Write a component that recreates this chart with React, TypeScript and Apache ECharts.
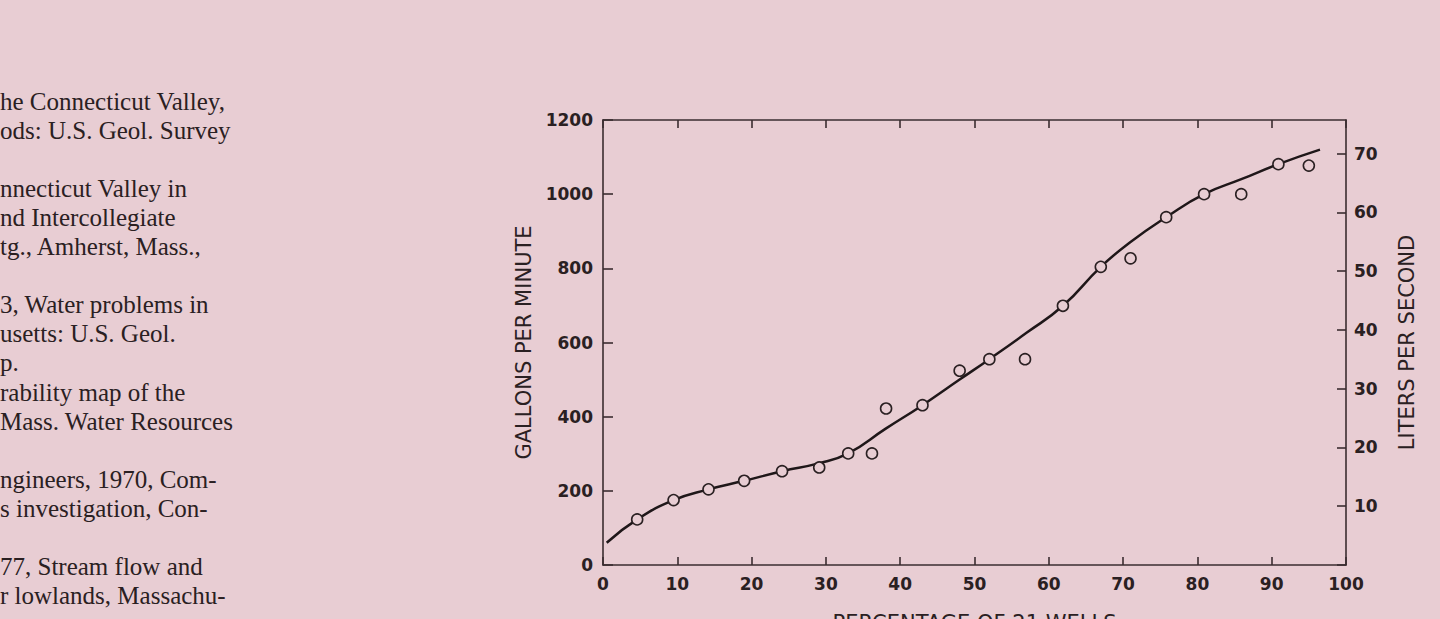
import React, { useEffect, useRef } from "react";
import * as echarts from "echarts";

// ---- data ----
const xTickValues = [0, 10, 20, 30, 40, 50, 60, 70, 80, 90, 100];
const gpmTicks = [0, 200, 400, 600, 800, 1000, 1200];
const lpsTicks = [10, 20, 30, 40, 50, 60, 70];

// observed wells (percentage of 21 wells, gallons per minute)
const wellPct = [4.6, 9.5, 14.2, 19.0, 24.1, 29.1, 33.0, 36.2, 38.1, 43.0, 48.0, 52.0, 56.8, 61.9, 67.0, 71.0, 75.8, 80.9, 85.9, 90.9, 95.0];
const wellGpm = [123, 175, 204, 227, 253, 263, 301, 301, 422, 431, 524, 555, 555, 699, 804, 827, 938, 1000, 1000, 1081, 1077];

// fitted curve
const curvePct = [0.5, 4.6, 9.5, 14.2, 19.0, 24.1, 29.0, 33.0, 38.0, 43.0, 48.0, 52.0, 57.0, 61.9, 67.0, 71.0, 75.8, 80.9, 86.0, 90.9, 96.5];
const curveGpm = [60, 123, 175, 204, 227, 253, 274, 301, 367, 431, 500, 555, 626, 699, 804, 871, 938, 1000, 1041, 1081, 1120];

const GPM_TO_LPS = 0.0630902;

// cut-off text column on the left of the page
const textLines = [
  "he Connecticut Valley,",
  "ods: U.S. Geol. Survey",
  "",
  "nnecticut Valley in",
  "nd Intercollegiate",
  "tg., Amherst, Mass.,",
  "",
  "3, Water problems in",
  "usetts: U.S. Geol.",
  "p.",
  "rability map of the",
  "Mass. Water Resources",
  "",
  "ngineers, 1970, Com-",
  "s investigation, Con-",
  "",
  "77, Stream flow and",
  "r lowlands, Massachu-",
];

const BG = "#e8cdd3";
const INK = "#2a2022";
const AXIS = "#3a2d30";

export default function App() {
  const ref = useRef<HTMLDivElement>(null);

  useEffect(() => {
    if (!ref.current) return;
    const chart = echarts.init(ref.current, null, { renderer: "svg" });

    const labelFont = {
      fontFamily: "DejaVu Sans",
      fontWeight: "bold" as const,
      fontSize: 17,
      color: INK,
    };
    const nameFont = {
      fontFamily: "DejaVu Sans",
      fontSize: 21,
      color: INK,
    };
    const lineStyle = { color: AXIS, width: 1.6 };

    const graphics = textLines
      .map((t, i) => ({ t, i }))
      .filter((o) => o.t.length > 0)
      .map((o) => ({
        type: "text",
        x: 0,
        y: 101.8 + 29.02 * o.i,
        silent: true,
        style: {
          text: o.t,
          font: '25px "Liberation Serif"',
          fill: INK,
          textAlign: "left",
          textVerticalAlign: "middle",
        },
      }));

    const option: any = {
      animation: false,
      backgroundColor: BG,
      grid: {
        left: 603,
        top: 120,
        width: 743,
        height: 445,
        containLabel: false,
        outerBoundsMode: "none",
      },
      xAxis: [
        {
          type: "value",
          position: "bottom",
          min: 0,
          max: 100,
          interval: 10,
          name: "PERCENTAGE OF 21 WELLS",
          nameLocation: "middle",
          nameGap: 47,
          nameTextStyle: nameFont,
          axisLine: { show: true, onZero: false, lineStyle },
          axisTick: { show: true, inside: true, length: 8, lineStyle },
          axisLabel: {
            ...labelFont,
            margin: 10,
            formatter: (v: number) => (xTickValues.includes(v) ? String(v) : ""),
          },
          splitLine: { show: false },
        },
        {
          type: "value",
          position: "top",
          min: 0,
          max: 100,
          interval: 10,
          axisLine: { show: true, onZero: false, lineStyle },
          axisTick: { show: true, inside: true, length: 8, lineStyle },
          axisLabel: { show: false },
          splitLine: { show: false },
        },
      ],
      yAxis: [
        {
          type: "value",
          position: "left",
          min: 0,
          max: 1200,
          interval: 200,
          name: "GALLONS PER MINUTE",
          nameLocation: "middle",
          nameGap: 63,
          nameTextStyle: nameFont,
          axisLine: { show: true, onZero: false, lineStyle },
          axisTick: { show: true, inside: true, length: 10, lineStyle },
          axisLabel: {
            ...labelFont,
            margin: 10,
            formatter: (v: number) => (gpmTicks.includes(v) ? String(v) : ""),
          },
          splitLine: { show: false },
        },
        {
          type: "value",
          position: "right",
          min: 0,
          max: 1200 * GPM_TO_LPS,
          interval: 10,
          alignTicks: false,
          name: "LITERS PER SECOND",
          nameLocation: "middle",
          nameGap: 50,
          nameTextStyle: nameFont,
          axisLine: { show: true, onZero: false, lineStyle },
          axisTick: { show: true, inside: true, length: 9, lineStyle },
          axisLabel: {
            ...labelFont,
            margin: 8,
            showMaxLabel: false,
            formatter: (v: number) => (lpsTicks.includes(Math.round(v * 1000) / 1000) ? String(v) : ""),
          },
          splitLine: { show: false },
        },
      ],
      graphic: graphics,
      series: [
        {
          type: "line",
          xAxisIndex: 0,
          yAxisIndex: 0,
          data: curvePct.map((x, i) => [x, curveGpm[i]]),
          smooth: 0.5,
          showSymbol: false,
          symbol: "none",
          lineStyle: { color: "#1f1719", width: 2.5 },
          silent: true,
          z: 2,
        },
        {
          type: "scatter",
          xAxisIndex: 0,
          yAxisIndex: 0,
          data: wellPct.map((x, i) => [x, wellGpm[i]]),
          symbol: "circle",
          symbolSize: 11,
          itemStyle: { color: BG, borderColor: "#2a2022", borderWidth: 1.6, opacity: 1 },
          silent: true,
          z: 3,
        },
      ],
    };

    chart.setOption(option);
    return () => chart.dispose();
  }, []);

  return (
    <div
      ref={ref}
      style={{ position: "fixed", left: 0, top: 0, width: 1440, height: 619, background: BG }}
    />
  );
}
